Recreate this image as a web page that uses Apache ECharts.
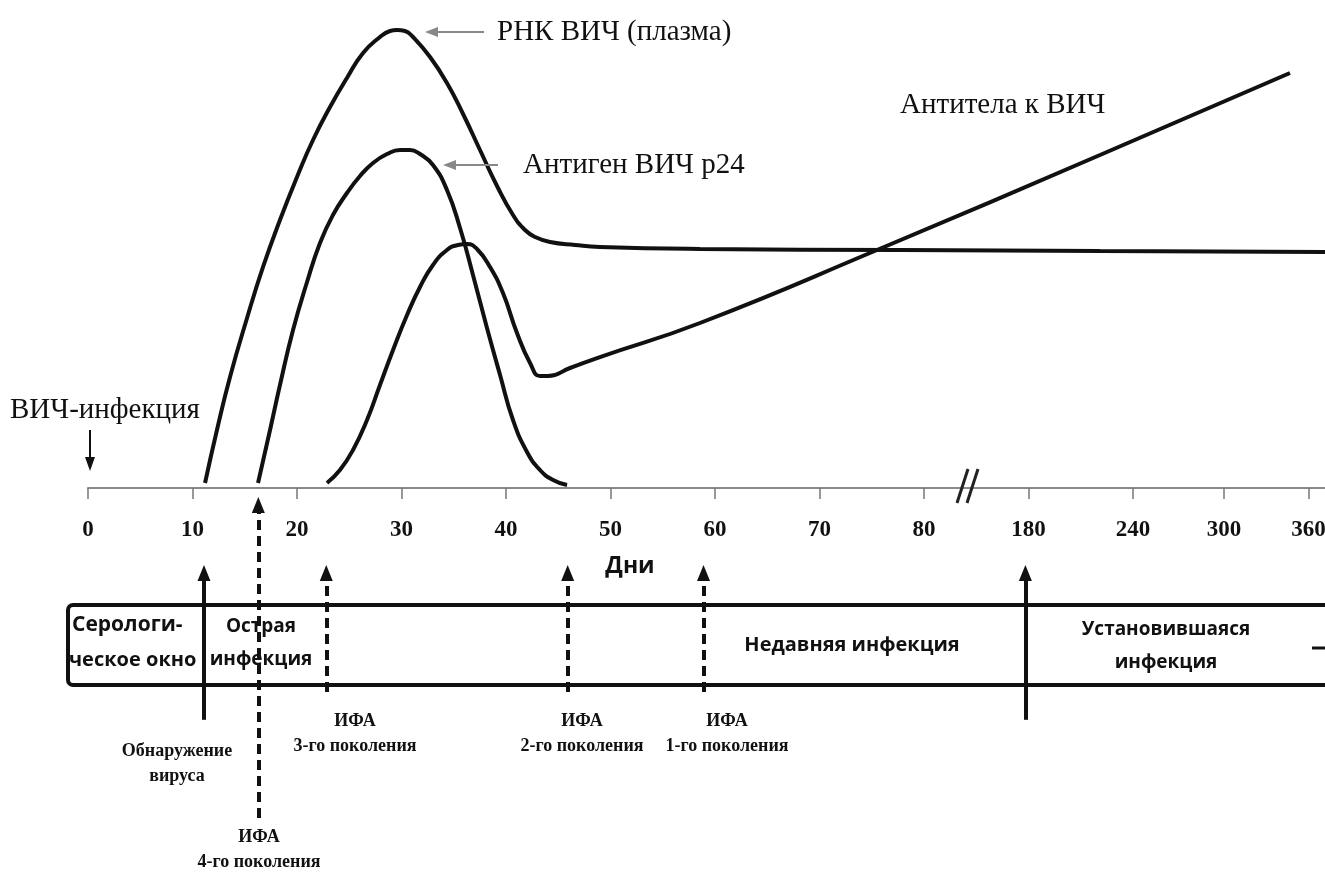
<!DOCTYPE html>
<html>
<head>
<meta charset="utf-8">
<script src="https://cdn.jsdelivr.net/npm/echarts@6/dist/echarts.min.js"></script>
<style>
html,body{margin:0;padding:0;background:#fff;}
#chart{width:1325px;height:875px;}
</style>
</head>
<body>
<div id="chart"></div>
<script>
// Axis ticks (axis position units; after the break the ticks stand for 180..360 days)
const tickPos = [0, 10, 20, 30, 40, 50, 60, 70, 80, 90, 100, 108.7, 116.8];
const tickLabels = ['0', '10', '20', '30', '40', '50', '60', '70', '80', '180', '240', '300', '360'];

// HIV RNA (plasma)
const rnaX = [11.20, 12.34, 13.59, 15.22, 16.75, 18.37, 20.00, 21.53, 23.16, 24.78, 26.32, 27.94, 28.90, 29.57, 30.33, 31.10, 32.73, 34.35, 35.89, 37.51, 39.14, 40.67, 41.82, 42.78, 44.21, 46.60, 48.99, 58.56, 77.70, 96.84, 118.37];
const rnaY = [1.02, 11.89, 22.75, 34.84, 45.29, 54.92, 63.73, 71.31, 78.07, 84.02, 89.14, 92.42, 93.65, 93.85, 93.65, 92.42, 88.32, 82.99, 76.64, 69.26, 61.89, 55.94, 52.87, 51.43, 50.41, 49.80, 49.39, 48.98, 48.77, 48.57, 48.36];

// p24 antigen
const p24X = [16.27, 17.42, 18.37, 19.62, 20.96, 22.20, 23.44, 24.78, 26.03, 27.27, 28.61, 29.86, 30.81, 31.77, 33.01, 34.35, 35.60, 36.84, 38.18, 39.43, 40.67, 42.01, 43.25, 44.50, 45.84];
const p24Y = [1.02, 11.89, 21.11, 32.38, 42.21, 50.20, 55.94, 60.45, 63.93, 66.60, 68.44, 69.26, 69.26, 68.44, 66.19, 61.07, 53.28, 43.65, 32.79, 23.16, 13.93, 7.38, 3.69, 1.64, 0.61];

// Antibodies
const abX = [22.87, 24.11, 25.36, 26.70, 27.94, 29.19, 30.53, 31.77, 33.01, 34.35, 35.41, 36.27, 37.22, 38.47, 39.71, 41.05, 42.30, 43.25, 44.02, 46.12, 48.99, 58.56, 75.50, 96.84, 115.02];
const abY = [1.02, 3.69, 7.79, 13.93, 21.11, 28.28, 35.45, 41.19, 45.70, 48.77, 49.80, 50.00, 48.98, 45.29, 39.96, 31.76, 25.61, 22.95, 22.95, 24.59, 26.84, 33.81, 48.77, 68.24, 85.04];

// Test markers (axis position, arrow tip level, arrow foot level, dashed?)
const markerPos = [11.1, 16.3, 22.8, 45.9, 58.9, 89.7];
const markerTop = [-17.4, -3.5, -17.4, -17.4, -17.4, -17.4];
const markerBottom = [-47.5, -67.6, -41.8, -41.8, -41.8, -47.5];
const markerDashed = [false, true, true, true, true, false];

const zip = (xs, ys) => xs.map((x, i) => [x, ys[i]]);

const chart = echarts.init(document.getElementById('chart'), null, {renderer: 'canvas'});

const curveStyle = {color: '#111', width: 4};
const markLines = markerPos.map((x, i) => [
  {coord: [x, markerBottom[i]], lineStyle: {color: '#111', width: 4, type: markerDashed[i] ? [10, 6] : 'solid'}},
  {coord: [x, markerTop[i]]}
]);

const serif = '"Liberation Serif", "Times New Roman", serif';
const sans = '"Open Sans", "Noto Sans", sans-serif';

function txt(x, y, text, font, align, lh) {
  return {
    type: 'text', x: x, y: y, z: 100,
    style: {text: text, font: font, fill: '#111', textAlign: align || 'left', align: align || 'left',
            textVerticalAlign: 'middle', verticalAlign: 'middle', lineHeight: lh || 25}
  };
}
function line(x1, y1, x2, y2, color, w) {
  return {type: 'line', z: 100, shape: {x1: x1, y1: y1, x2: x2, y2: y2}, style: {stroke: color, lineWidth: w}};
}
function tri(points, color) {
  return {type: 'polygon', z: 100, shape: {points: points}, style: {fill: color}};
}

const option = {
  animation: false,
  backgroundColor: '#fff',
  grid: [
    {left: 88, right: 0, top: 0, bottom: 387, containLabel: false, outerBoundsMode: 'none'},
    {left: 88, right: 0, top: 488, bottom: 0, containLabel: false, outerBoundsMode: 'none'}
  ],
  xAxis: [
    {
      type: 'value', gridIndex: 0, min: 0, max: 118.37, position: 'bottom',
      axisLine: {show: true, onZero: false, lineStyle: {color: '#8a8a8a', width: 2}},
      axisTick: {show: true, customValues: tickPos, length: 11, inside: false, lineStyle: {color: '#777', width: 1.5}},
      axisLabel: {
        show: true, customValues: tickPos, margin: 31, showMinLabel: true, showMaxLabel: true,
        fontFamily: serif, fontWeight: 'bold', fontSize: 23, color: '#111',
        formatter: function (v) {
          for (let i = 0; i < tickPos.length; i++) if (Math.abs(tickPos[i] - v) < 0.01) return tickLabels[i];
          return '';
        }
      },
      splitLine: {show: false}
    },
    {type: 'value', gridIndex: 1, min: 0, max: 118.37, show: false, splitLine: {show: false}}
  ],
  yAxis: [
    {type: 'value', gridIndex: 0, min: 0, max: 100, show: false, splitLine: {show: false}},
    {type: 'value', gridIndex: 1, min: -79.3, max: 0, show: false, splitLine: {show: false}}
  ],
  series: [
    {type: 'line', name: 'РНК ВИЧ (плазма)', data: zip(rnaX, rnaY), smooth: 0.5, showSymbol: false, lineStyle: curveStyle, z: 5, clip: false},
    {type: 'line', name: 'Антиген ВИЧ p24', data: zip(p24X, p24Y), smooth: 0.5, showSymbol: false, lineStyle: curveStyle, z: 5, clip: false},
    {type: 'line', name: 'Антитела к ВИЧ', data: zip(abX, abY), smooth: 0.5, showSymbol: false, lineStyle: curveStyle, z: 5, clip: false},
    {
      type: 'line', xAxisIndex: 1, yAxisIndex: 1, data: [], silent: true,
      markLine: {
        silent: true, symbol: ['none', 'triangle'], symbolSize: [13, 16],
        label: {show: false}, animation: false,
        data: markLines
      }
    }
  ],
  graphic: [
    // top labels
    txt(497, 32, 'РНК ВИЧ (плазма)', '29px ' + serif),
    line(484, 32, 434, 32, '#888', 2), tri([[425, 32], [438, 27], [438, 37]], '#888'),
    txt(523, 165, 'Антиген ВИЧ р24', '29px ' + serif),
    line(498, 165, 452, 165, '#888', 2), tri([[443, 165], [456, 160], [456, 170]], '#888'),
    txt(900, 105, 'Антитела к ВИЧ', '29px ' + serif),
    txt(10, 410, 'ВИЧ-инфекция', '29px ' + serif),
    line(90, 430, 90, 460, '#111', 2), tri([[90, 471], [85, 457], [95, 457]], '#111'),
    // axis break
    line(957, 503, 968, 469, '#222', 3), line(967, 503, 978, 469, '#222', 3),
    txt(630, 566, 'Дни', 'bold 23px ' + sans, 'center'),
    // phase box
    {type: 'rect', z: 90, shape: {x: 68, y: 605, width: 1300, height: 80, r: [5, 0, 0, 5]},
     style: {fill: 'none', stroke: '#111', lineWidth: 4}},
    txt(72, 625, 'Серологи-', 'bold 21px ' + sans),
    txt(69, 660, 'ческое окно', 'bold 20px ' + sans),
    txt(261, 643, 'Острая\nинфекция', 'bold 19px ' + sans, 'center', 33),
    txt(852, 645, 'Недавняя инфекция', 'bold 20px ' + sans, 'center'),
    txt(1166, 646, 'Установившаяся\nинфекция', 'bold 19px ' + sans, 'center', 33),
    line(1312, 648, 1325, 648, '#111', 3),
    // test labels
    txt(177, 764, 'Обнаружение\nвируса', 'bold 18px ' + serif, 'center'),
    txt(355, 734, 'ИФА\n3-го поколения', 'bold 18px ' + serif, 'center'),
    txt(582, 734, 'ИФА\n2-го поколения', 'bold 18px ' + serif, 'center'),
    txt(727, 734, 'ИФА\n1-го поколения', 'bold 18px ' + serif, 'center'),
    txt(259, 850, 'ИФА\n4-го поколения', 'bold 18px ' + serif, 'center')
  ]
};
chart.setOption(option);
</script>
</body>
</html>
